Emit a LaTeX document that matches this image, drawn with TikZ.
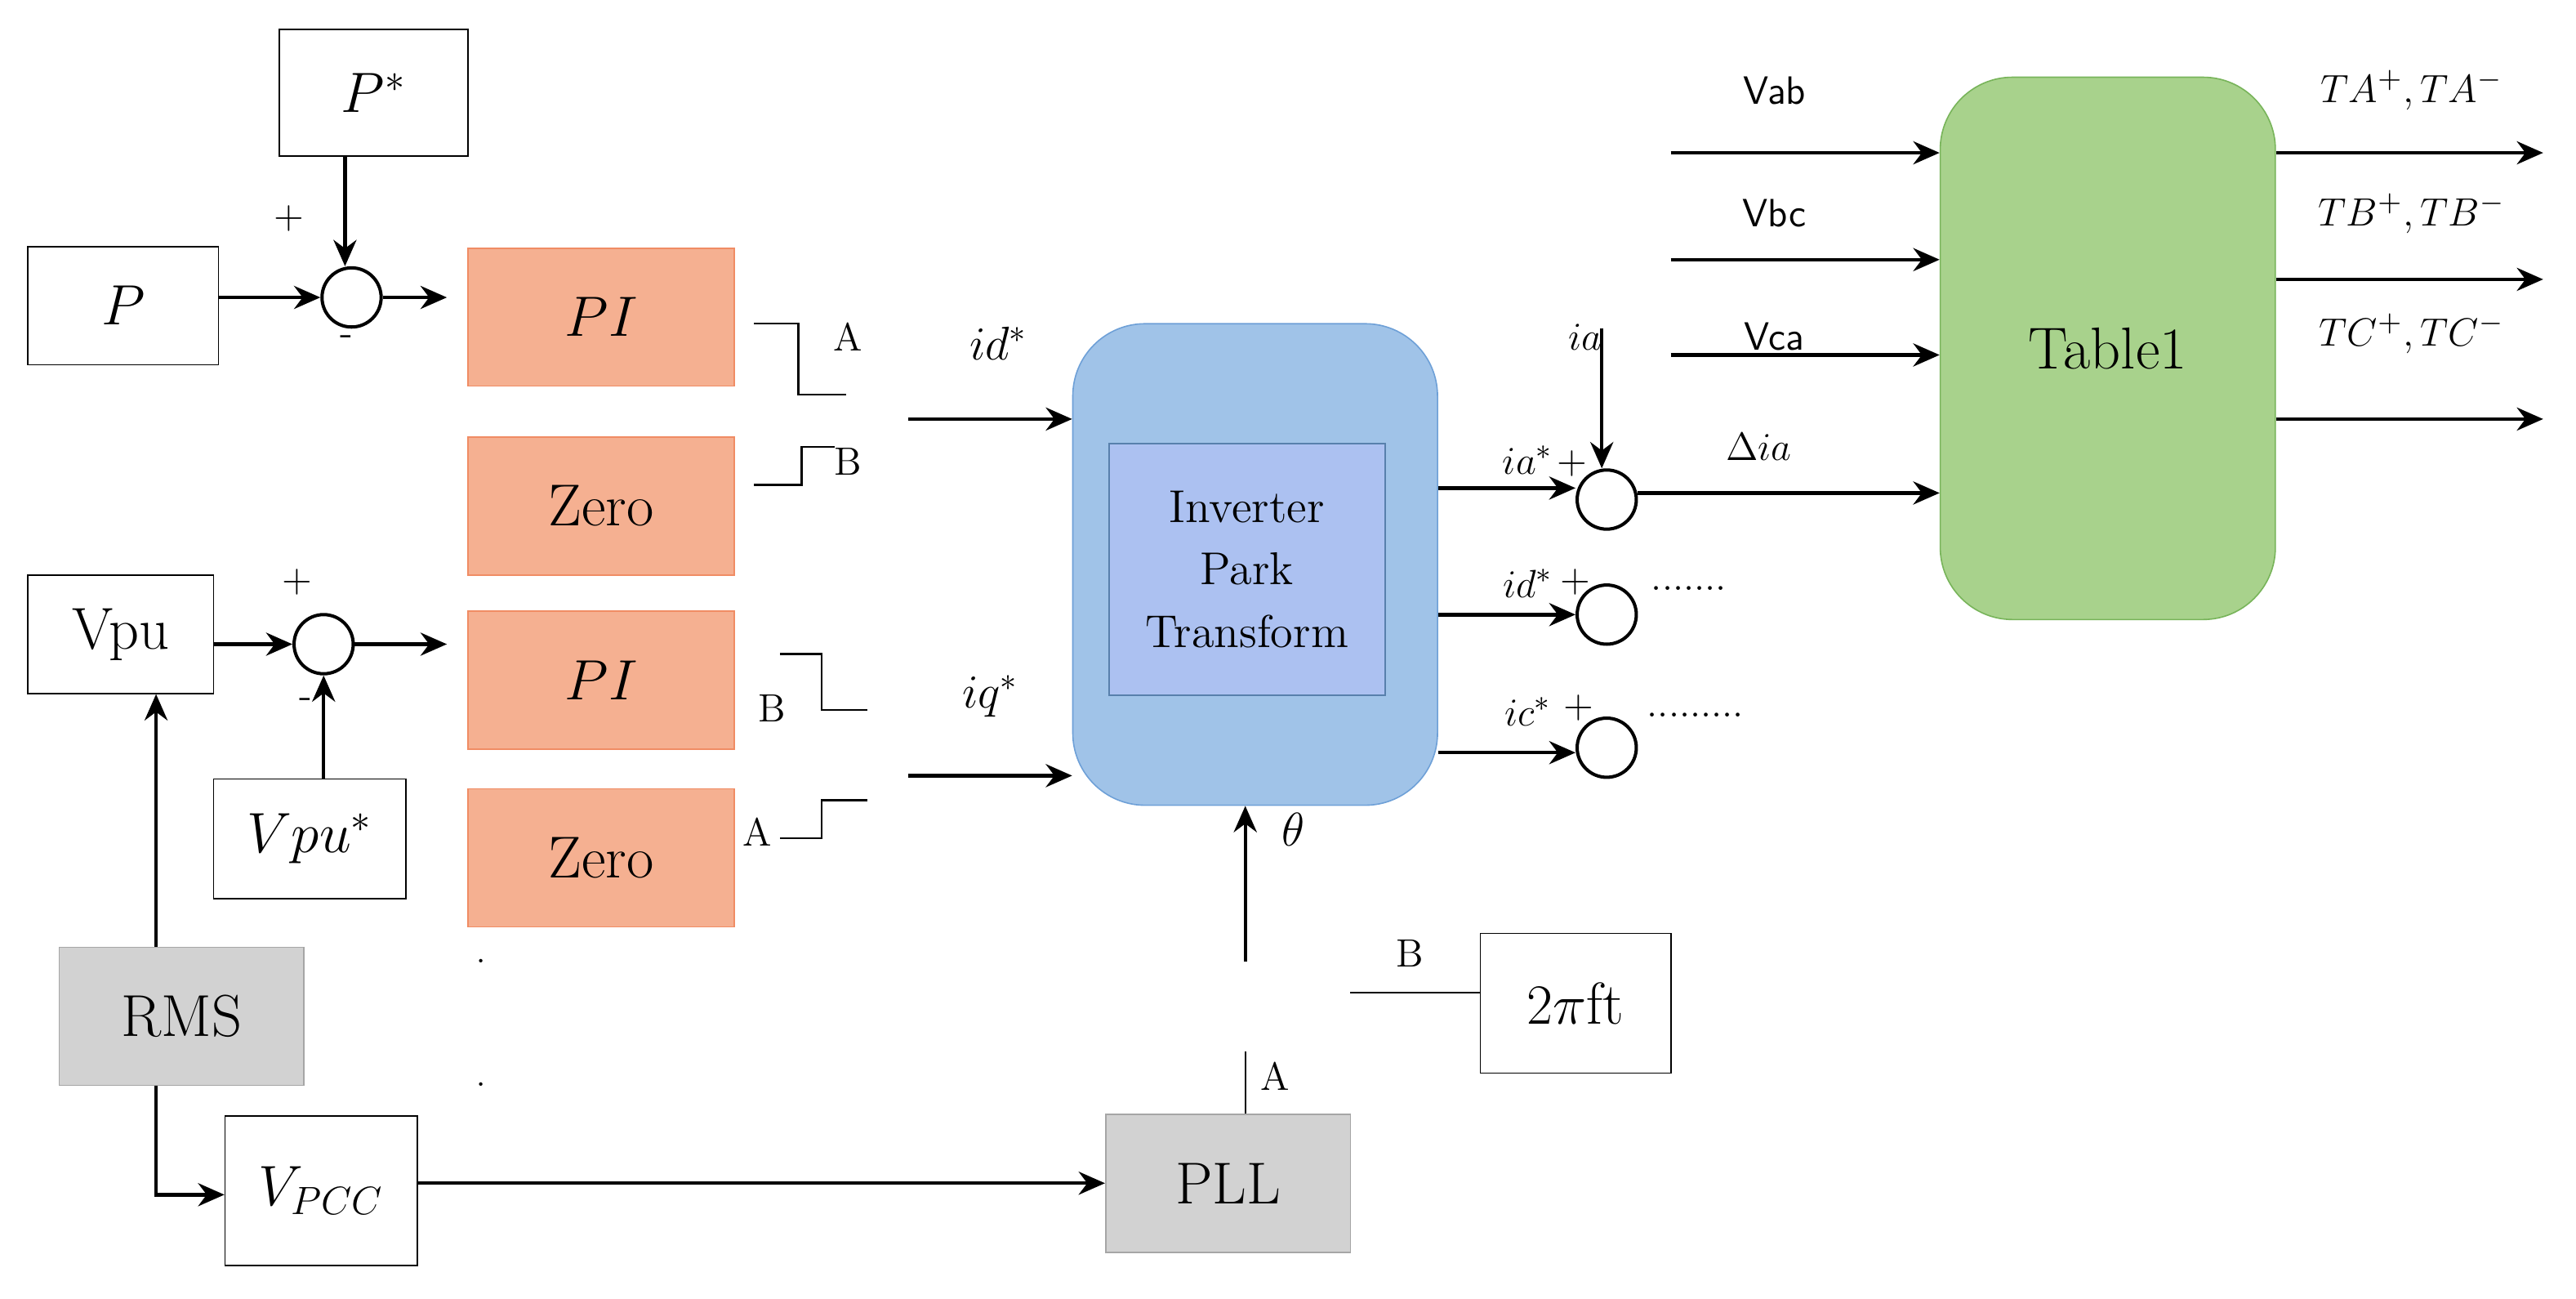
\documentclass[tikz,border=0pt]{standalone}
\usetikzlibrary{arrows.meta}
\definecolor{orfill}{RGB}{245,176,145}
\definecolor{ordraw}{RGB}{240,140,100}
\definecolor{blfill}{RGB}{160,195,232}
\definecolor{bldraw}{RGB}{110,160,215}
\definecolor{grfill}{RGB}{168,210,140}
\definecolor{grdraw}{RGB}{120,180,90}
\definecolor{gyfill}{RGB}{210,210,210}
\begin{document}
\begin{tikzpicture}[x=0.5pt,y=-0.5pt,
    blk/.style={draw, inner sep=0pt, font=\fontsize{18}{20}\selectfont},
    ctl/.style={blk, fill=orfill, draw=ordraw, minimum width=81pt, minimum height=42pt},
    gry/.style={blk, fill=gyfill, draw=gray!70, minimum width=74.5pt, minimum height=42pt},
    sum/.style={draw, circle, minimum size=18pt, inner sep=0pt, line width=1pt},
    arr/.style={-{Stealth[length=8pt,width=7pt]}, line width=1.1pt},
    lbl/.style={font=\fontsize{12}{14}\selectfont},
    sw/.style={line width=0.6pt}]
    \useasboundingbox (0,0) rectangle (1568,790);

    % input side
    \node[blk, minimum width=57.5pt, minimum height=38.5pt] (Pref) at (227.5,56.5) {$P^{*}$};
    \node[blk, minimum width=58pt, minimum height=36pt] (P) at (75,186) {$P$};
    \node[sum] (s1) at (214,181) {};
    \node[lbl] at (176,133) {+};
    \node[lbl] at (211,207) {-};
    \node[blk, minimum width=56.5pt, minimum height=36pt] (Vpu) at (73.5,386) {Vpu};
    \node[sum] (s2) at (197,392) {};
    \node[lbl] at (181,354) {+};
    \node[lbl] at (186,428) {-};
    \node[blk, minimum width=58.5pt, minimum height=36.5pt] (Vpuref) at (188.5,510.5) {$Vpu^{*}$};
    \node[gry] (RMS) at (110.5,618.5) {RMS};
    \node[blk, minimum width=58.5pt, minimum height=45.5pt] (Vpcc) at (195.5,724.5) {$V_{PCC}$};
    \node[gry] (PLL) at (747.5,720) {PLL};
    \node[blk, minimum width=58pt, minimum height=42.5pt] (wt) at (959,610.5) {$2\pi$ft};

    % controllers
    \node[ctl] (PI1) at (366,193) {$PI$};
    \node[ctl] (Z1) at (366,308) {Zero};
    \node[ctl] (PI2) at (366,414) {$PI$};
    \node[ctl] (Z2) at (366,522) {Zero};
    \node at (293,585) {.};
    \node at (293,660) {.};

    % transform and table
    \node[blk, rounded corners=22pt, fill=blfill, draw=bldraw, minimum width=111pt, minimum height=146.5pt] (Inv) at (764,343.5) {};
    \node[draw=bldraw!80!black, fill=blfill!85!blue!70!white, minimum width=84pt, minimum height=76.5pt, align=center,
        font=\fontsize{14}{19}\selectfont] (Park) at (759,346.5) {Inverter\\Park\\Transform};
    \node[blk, rounded corners=22pt, fill=grfill, draw=grdraw, minimum width=102pt, minimum height=165pt] (Tab) at (1283,212) {Table1};

    % switches
    \draw[sw] (459,197) -- (486,197) -- (486,240) -- (515,240);
    \node[lbl] at (516,205) {A};
    \draw[sw] (459,295) -- (488,295) -- (488,272) -- (508,272);
    \node[lbl] at (516,281) {B};
    \draw[sw] (475,398) -- (500,398) -- (500,432) -- (528,432);
    \node[lbl] at (470,431) {B};
    \draw[sw] (475,510) -- (500,510) -- (500,487) -- (528,487);
    \node[lbl] at (461,506) {A};
    \draw[sw] (758,640) -- (PLL.north -| 758,0);
    \node[lbl] at (776,655) {A};
    \draw[sw] (822,604) -- (wt.west |- 0,604);
    \node[lbl] at (858,580) {B};

    % connections
    \draw[arr] (Pref.south -| 210,0) -- (s1.north -| 210,0);
    \draw[arr] (P.east |- s1) -- (s1);
    \draw[arr] (s1) -- (272,181);
    \draw[arr] (Vpu.east |- s2) -- (s2);
    \draw[arr] (s2) -- (272,392);
    \draw[arr] (Vpuref.north -| s2) -- (s2);
    \draw[arr] (RMS.north -| 95,0) -- (Vpu.south -| 95,0);
    \draw[arr] (RMS.south -| 95,0) |- (Vpcc.west |- 0,727);
    \draw[arr] (Vpcc.east |- PLL.west) -- (PLL.west);
    \draw[arr] (553,255) -- (Inv.west |- 0,255) node[pos=0.55, above=14pt, font=\fontsize{14}{16}\selectfont] {$id^{*}$};
    \draw[arr] (553,472) -- (Inv.west |- 0,472) node[pos=0.5, above=14pt, font=\fontsize{14}{16}\selectfont] {$iq^{*}$};
    \draw[arr] (758,585) -- (Inv.south -| 758,0);
    \node[font=\fontsize{14}{16}\selectfont] at (787,505) {$\theta$};

    % current comparators
    \node[sum] (ca) at (978,304) {};
    \node[sum] (cb) at (978,374) {};
    \node[sum] (cc) at (978,455) {};
    \draw[arr] (Inv.east |- 0,297) -- (ca.west |- 0,297);
    \draw[arr] (Inv.east |- cb) -- (cb);
    \draw[arr] (Inv.east |- 0,458) -- (cc.west |- 0,458);
    \node[font=\fontsize{13}{15}\selectfont] at (930,280) {$ia^{*}$};
    \node[font=\fontsize{13}{15}\selectfont] at (930,355) {$id^{*}$};
    \node[font=\fontsize{13}{15}\selectfont] at (930,433) {$ic^{*}$};
    \node[lbl] at (957,282) {+};
    \node[lbl] at (959,354) {+};
    \node[lbl] at (961,431) {+};
    \draw[arr] (975,200) -- (ca.north -| 975,0);
    \node[font=\fontsize{13}{15}\selectfont] at (965,205) {$ia$};
    \node[lbl] at (1028,358) {.......};
    \node[lbl] at (1032,435) {.........};
    \draw[arr] (ca.east |- 0,300) -- (Tab.west |- 0,300) node[pos=0.4, above=6pt, font=\fontsize{13}{15}\selectfont] {$\Delta ia$};

    % table inputs and outputs
    \draw[arr] (1017,93) -- (Tab.west |- 0,93);
    \node[lbl, font=\fontsize{12}{14}\sffamily] at (1080,55) {Vab};
    \draw[arr] (1017,158) -- (Tab.west |- 0,158);
    \node[lbl, font=\fontsize{12}{14}\sffamily] at (1080,130) {Vbc};
    \draw[arr] (1017,216) -- (Tab.west |- 0,216);
    \node[lbl, font=\fontsize{12}{14}\sffamily] at (1080,205) {Vca};
    \draw[arr] (Tab.east |- 0,93) -- (1548,93);
    \node[font=\fontsize{13}{15}\selectfont] at (1468,55) {$TA^{+}, TA^{-}$};
    \draw[arr] (Tab.east |- 0,170) -- (1548,170);
    \node[font=\fontsize{13}{15}\selectfont] at (1468,130) {$TB^{+}, TB^{-}$};
    \draw[arr] (Tab.east |- 0,255) -- (1548,255);
    \node[font=\fontsize{13}{15}\selectfont] at (1468,203) {$TC^{+}, TC^{-}$};
\end{tikzpicture}
\end{document}
